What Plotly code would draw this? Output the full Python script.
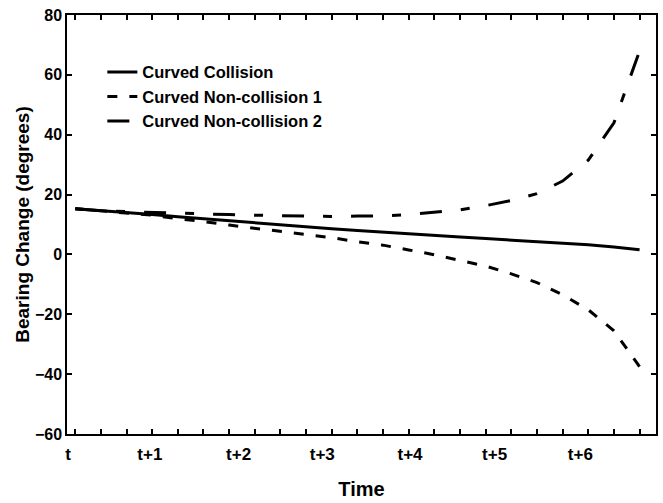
import plotly.graph_objects as go

# sample index (one per minor tick on the time axis)
step = list(range(23))

collision = [15.3, 14.7, 14.0, 13.3, 12.6, 11.9, 11.2, 10.5, 9.8, 9.2, 8.6, 8.0,
             7.4, 6.9, 6.3, 5.8, 5.3, 4.8, 4.3, 3.8, 3.2, 2.5, 1.6]
noncoll_1 = [15.3, 14.5, 13.8, 13.1, 11.9, 11.0, 9.8, 8.8, 7.8, 6.7, 5.6, 4.2,
             3.1, 1.5, -0.1, -2.0, -3.9, -6.5, -9.4, -13.5, -18.5, -25.5, -37.5]
noncoll_2 = [15.3, 14.6, 14.3, 14.0, 13.7, 13.4, 13.3, 13.1, 12.9, 12.8, 12.7, 12.8,
             12.9, 13.3, 14.0, 14.9, 16.3, 18.0, 20.3, 24.5, 31.5, 44.0, 68.0]

time_label_pos = [-0.28, 2.91, 6.37, 9.63, 13.05, 16.35, 19.69]
time_labels = ["t", "t+1", "t+2", "t+3", "t+4", "t+5", "t+6"]
y_ticks = [-60, -40, -20, 0, 20, 40, 60, 80]

FONT = "Liberation Sans, Arial, sans-serif"
xr = [-0.32, 22.64]

fig = go.Figure()
fig.add_trace(go.Scatter(x=step, y=collision, mode="lines", name="Curved Collision",
                         line=dict(color="black", width=3)))
fig.add_trace(go.Scatter(x=step, y=noncoll_1, mode="lines", name="Curved Non-collision 1",
                         xaxis="x2",
                         line=dict(color="black", width=3, dash="10px,12px")))
fig.add_trace(go.Scatter(x=step, y=noncoll_2, mode="lines", name="Curved Non-collision 2",
                         xaxis="x2",
                         line=dict(color="black", width=3, dash="22px,19px,9px,19px")))

fig.update_layout(
    width=663, height=503,
    margin=dict(l=67, r=5, t=15, b=69),
    paper_bgcolor="white", plot_bgcolor="white",
    font=dict(family=FONT, color="black", size=16, weight="bold"),
    showlegend=True,
    legend=dict(x=0.06, y=0.905, xanchor="left", yanchor="top",
                bgcolor="rgba(0,0,0,0)", font=dict(size=16.5, weight="bold")),
    xaxis=dict(range=xr, tickmode="linear", tick0=0, dtick=1,
               showticklabels=False, ticks="inside", ticklen=5, tickwidth=1.5,
               tickcolor="black", showline=True, linecolor="black", linewidth=1.5,
               mirror="ticks", showgrid=False, zeroline=False),
    xaxis2=dict(range=xr, overlaying="x", side="bottom", anchor="y",
                tickmode="array", tickvals=time_label_pos, ticktext=time_labels,
                ticks="", showline=False, showgrid=False, zeroline=False,
                ticklabelstandoff=8,
                tickfont=dict(size=17, weight="bold"),
                title=dict(text="Time", font=dict(size=20, weight="bold"), standoff=18)),
    yaxis=dict(range=[-60, 80], tickmode="array", tickvals=y_ticks,
               ticks="inside", ticklen=5, tickwidth=1.5, tickcolor="black",
               showline=True, linecolor="black", linewidth=1.5, mirror="ticks",
               showgrid=False, zeroline=False,
               tickfont=dict(size=16, weight="bold"),
               title=dict(text="Bearing Change (degrees)", font=dict(size=19, weight="bold"),
                          standoff=0)),
)

fig.write_html("out.html", config={"displayModeBar": False},
               post_script="document.body.style.margin='0';")
